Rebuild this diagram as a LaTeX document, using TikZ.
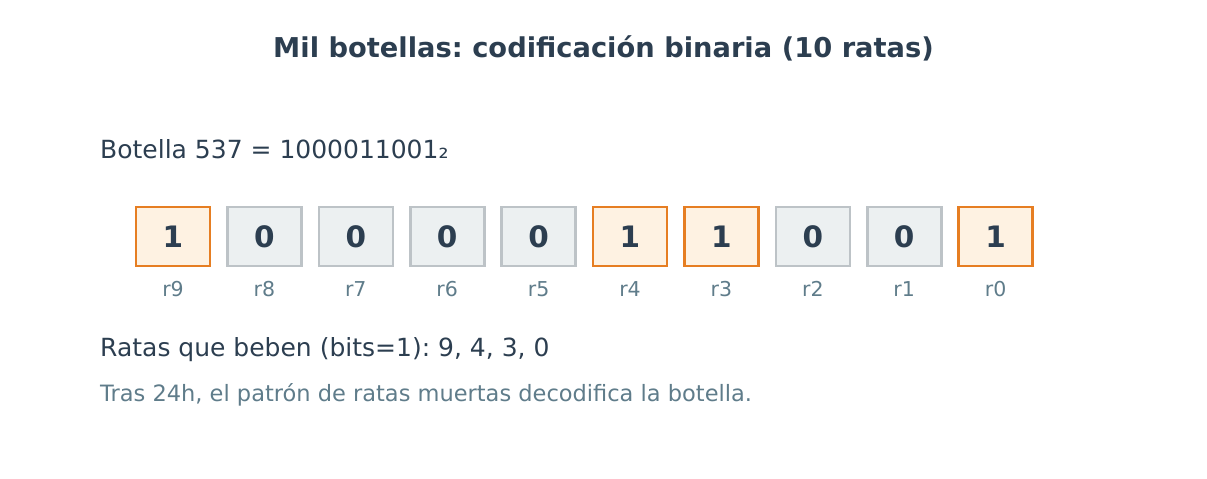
\documentclass[tikz,border=0pt]{standalone}
\usepackage{fontspec}
\setmainfont{DejaVu Sans}
\usepackage{tikz}

\definecolor{ink}{HTML}{2C3E50}
\definecolor{mute}{HTML}{5F7C8A}
\definecolor{hot}{HTML}{E67E22}
\definecolor{hotfill}{HTML}{FEF2E2}
\definecolor{cold}{HTML}{BDC3C7}
\definecolor{coldfill}{HTML}{ECF0F1}
\frenchspacing

\begin{document}
\begin{tikzpicture}[x=1pt,y=-1pt]
\tikzstyle{every node}+=[inner sep=0pt]
\tikzstyle{bit1}=[draw=hot,fill=hotfill,line width=2.6pt,minimum width=74pt,minimum height=59pt,text=ink,font=\fontsize{29.5}{34}\selectfont\bfseries]
\tikzstyle{bit0}=[draw=cold,fill=coldfill,line width=2.6pt,minimum width=74pt,minimum height=59pt,text=ink,font=\fontsize{29.5}{34}\selectfont\bfseries]
\useasboundingbox (0,0) rectangle (1207,479);
\node (title) at (603.5,48) [text=ink,font=\fontsize{27.3}{32}\selectfont\bfseries] {Mil botellas: codificación binaria (10 ratas)};
\node (botella) at (100,149) [anchor=west,text=ink,font=\fontsize{25}{30}\selectfont] {Botella 537 = 1000011001₂};
\foreach \b [count=\i from 0] in {1,0,0,0,0,1,1,0,0,1} {
  \pgfmathtruncatemacro{\k}{9-\i}
  \node (b\i) at (173+91.4*\i,236.5) [bit\b] {\b};
  \node (r\i) at (173+91.4*\i,289) [text=mute,font=\fontsize{20.5}{24}\selectfont] {r\k};
}
\node (ratas) at (100,350) [anchor=west,text=ink,font=\fontsize{25}{30}\selectfont] {Ratas que beben (bits=1): 9, 4, 3, 0};
\node (nota) at (100,395) [anchor=west,text=mute,font=\fontsize{22.5}{27}\selectfont] {Tras 24h, el patrón de ratas muertas decodifica la botella.};
\end{tikzpicture}
\end{document}
